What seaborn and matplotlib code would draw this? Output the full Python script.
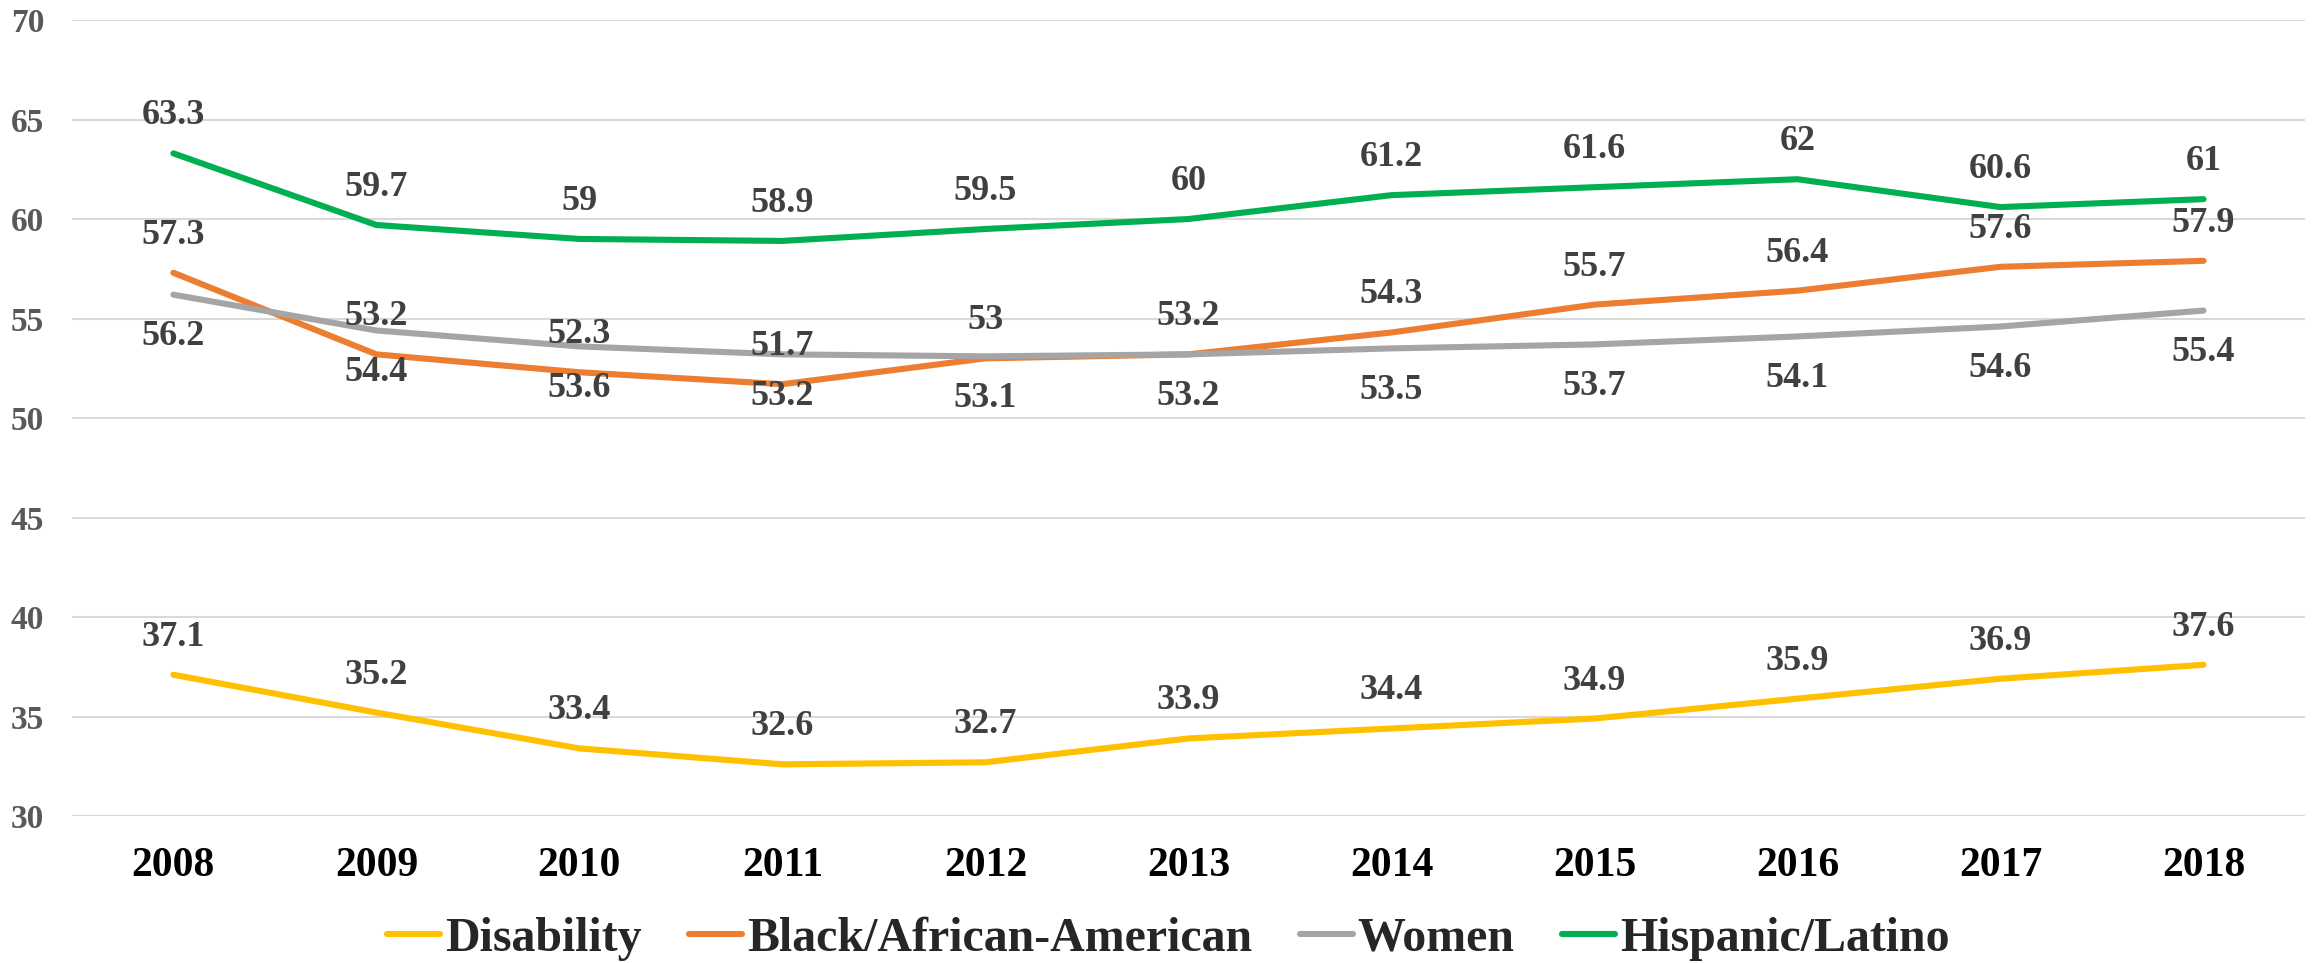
import seaborn as sns
import pandas as pd
import matplotlib.pyplot as plt
import matplotlib

sns.set_style('white')
matplotlib.rcParams['font.family'] = ['Liberation Serif', 'DejaVu Serif']
matplotlib.rcParams['font.weight'] = 'bold'

years = [2008, 2009, 2010, 2011, 2012, 2013, 2014, 2015, 2016, 2017, 2018]
disability = [37.1, 35.2, 33.4, 32.6, 32.7, 33.9, 34.4, 34.9, 35.9, 36.9, 37.6]
black = [57.3, 53.2, 52.3, 51.7, 53, 53.2, 54.3, 55.7, 56.4, 57.6, 57.9]
women = [56.2, 54.4, 53.6, 53.2, 53.1, 53.2, 53.5, 53.7, 54.1, 54.6, 55.4]
hispanic = [63.3, 59.7, 59, 58.9, 59.5, 60, 61.2, 61.6, 62, 60.6, 61]

series = ['Disability', 'Black/African-American', 'Women', 'Hispanic/Latino']
values = [disability, black, women, hispanic]
colors = ['#FFC000', '#ED7D31', '#A5A5A5', '#00B050']
label_side = [1, 1, -1, 1]  # label above (+1) or below (-1) the line

df = pd.DataFrame({
    'year': years * len(series),
    'value': sum(values, []),
    'group': [s for s in series for _ in years],
})

fig = plt.figure(figsize=(23.18, 9.63), dpi=100)
ax = fig.add_axes([0.031, 0.1526, 0.9634, 0.8266])

sns.lineplot(data=df, x='year', y='value', hue='group', hue_order=series,
             palette=colors, linewidth=4.4, ax=ax, legend=True)

for vals, side in zip(values, label_side):
    for yr, v in zip(years, vals):
        ax.annotate(f'{v:g}', (yr, v), xytext=(0, 27 if side > 0 else -30),
                    textcoords='offset points', ha='center', va='center',
                    fontsize=26, fontweight='bold', color='#404040')

ax.set_xlim(2007.5, 2018.5)
ax.set_ylim(30, 70)
ax.set_yticks(range(30, 71, 5))
ax.set_xticks(years)
ax.set_xticklabels([str(y) for y in years], fontsize=30, fontweight='bold', color='black')
for t in ax.get_yticklabels():
    t.set_fontsize(24)
    t.set_fontweight('bold')
    t.set_color('#595959')
ax.tick_params(axis='both', length=0)
ax.tick_params(axis='x', pad=22)
ax.tick_params(axis='y', pad=20)
ax.yaxis.grid(True, color='#D9D9D9', linewidth=1.5)
ax.xaxis.grid(False)
for sp in ax.spines.values():
    sp.set_visible(False)
ax.set_xlabel('')
ax.set_ylabel('')

handles, labels = ax.get_legend_handles_labels()
ax.get_legend().remove()
fig.legend(handles, labels, loc='center', bbox_to_anchor=(0.504, 0.025), ncol=4,
           frameon=False, prop={'size': 34.5, 'weight': 'bold'},
           handlelength=1.1, handletextpad=0.1, columnspacing=1.0)

plt.savefig('out.png', dpi=100)
